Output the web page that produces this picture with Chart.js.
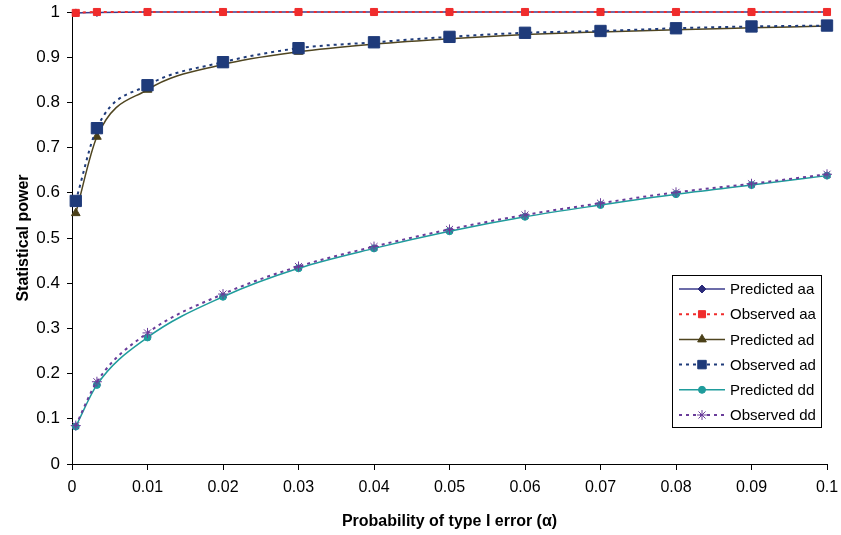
<!DOCTYPE html>
<html>
<head>
<meta charset="utf-8">
<script src="https://cdn.jsdelivr.net/npm/chart.js@4/dist/chart.umd.min.js"></script>
<style>
  body { margin: 0; background: #fff; }
  #wrap { width: 841px; height: 535px; }
</style>
</head>
<body>
<div id="wrap"><canvas id="power-chart" width="841" height="535"></canvas></div>
<script>
// alpha levels (x)
var alphas = [0.0005, 0.0033, 0.01, 0.02, 0.03, 0.04, 0.05, 0.06, 0.07, 0.08, 0.09, 0.1];

// statistical power per model
var predictedAA = [0.998, 0.999, 1, 1, 1, 1, 1, 1, 1, 1, 1, 1];
var observedAA  = [0.998, 1, 1, 1, 1, 1, 1, 1, 1, 1, 1, 1];
var predictedAD = [0.555, 0.724, 0.828, 0.884, 0.912, 0.929, 0.941, 0.950, 0.956, 0.961, 0.965, 0.969];
var observedAD  = [0.582, 0.743, 0.838, 0.889, 0.920, 0.933, 0.945, 0.954, 0.958, 0.964, 0.968, 0.970];
var predictedDD = [0.083, 0.175, 0.280, 0.370, 0.433, 0.477, 0.515, 0.547, 0.573, 0.597, 0.617, 0.638];
var observedDD  = [0.085, 0.182, 0.290, 0.376, 0.437, 0.481, 0.519, 0.551, 0.577, 0.601, 0.620, 0.641];

var seriesNames = ["Predicted aa", "Observed aa", "Predicted ad", "Observed ad", "Predicted dd", "Observed dd"];

function toPoints(vals){
	return vals.map(function(v, i){ return {x: alphas[i], y: v}; });
}

// observed series (order 0) are drawn over the predicted ones (order 1)
var datasets = [
	{ label: seriesNames[0], data: toPoints(predictedAA), borderColor: "#3b3b8c", backgroundColor: "#2b2b7a",
	  borderWidth: 1.5, pointStyle: "rectRot", pointRadius: 4, order: 1 },
	{ label: seriesNames[1], data: toPoints(observedAA), borderColor: "#f02c2c", backgroundColor: "#f02c2c",
	  borderWidth: 2, borderDash: [3, 4], pointStyle: "rect", pointRadius: 5, order: 0 },
	{ label: seriesNames[2], data: toPoints(predictedAD), borderColor: "#4f4520", backgroundColor: "#4a4018",
	  borderWidth: 1.5, pointStyle: "triangle", pointRadius: 5, order: 1 },
	{ label: seriesNames[3], data: toPoints(observedAD), borderColor: "#1f3b7a", backgroundColor: "#1f3b7a",
	  borderWidth: 2, borderDash: [3, 4], pointStyle: "rect", pointRadius: 8, order: 0 },
	{ label: seriesNames[4], data: toPoints(predictedDD), borderColor: "#1f9c9c", backgroundColor: "#1f9c9c",
	  borderWidth: 1.5, pointStyle: "circle", pointRadius: 3.5, order: 1 },
	{ label: seriesNames[5], data: toPoints(observedDD), borderColor: "#6a3d9a", backgroundColor: "#6a3d9a",
	  borderWidth: 2, borderDash: [3, 4], pointStyle: "star", pointRadius: 5, order: 0 }
];
datasets.forEach(function(d){
	d.fill = false;
	d.clip = false;
	d.cubicInterpolationMode = "monotone";
	d.pointBorderColor = d.backgroundColor;
	d.pointBorderWidth = 1;
});

// legend box inside the plot, drawn by hand
var boxLegend = {
	id: "boxLegend",
	afterDraw: function(chart){
		var ctx = chart.ctx;
		var left = 672, top = 275, w = 149, h = 152, rowH = 25.2;
		ctx.save();
		ctx.fillStyle = "#fff";
		ctx.fillRect(left, top, w, h);
		ctx.strokeStyle = "#000";
		ctx.lineWidth = 1;
		ctx.strokeRect(left + 0.5, top + 0.5, w, h);
		chart.data.datasets.forEach(function(d, i){
			var y = top + 14 + i * rowH;
			ctx.beginPath();
			ctx.strokeStyle = d.borderColor;
			ctx.lineWidth = d.borderWidth;
			ctx.setLineDash(d.borderDash || []);
			ctx.moveTo(679, y);
			ctx.lineTo(725, y);
			ctx.stroke();
			ctx.setLineDash([]);
			ctx.fillStyle = d.backgroundColor;
			ctx.strokeStyle = d.backgroundColor;
			ctx.lineWidth = 1;
			Chart.helpers.drawPoint(ctx, {pointStyle: d.pointStyle, radius: Math.min(d.pointRadius, 6), borderWidth: 1}, 702, y);
			ctx.fillStyle = "#000";
			ctx.font = "15px 'Liberation Sans', Arial, sans-serif";
			ctx.textBaseline = "middle";
			ctx.fillText(d.label, 730, y + 1);
		});
		ctx.restore();
	}
};

new Chart(document.getElementById("power-chart"), {
	type: "line",
	data: { datasets: datasets },
	options: {
		responsive: false,
		animation: false,
		layout: { padding: { top: 12, right: 14, left: 10, bottom: 0 } },
		plugins: { legend: { display: false }, tooltip: { enabled: false } },
		scales: {
			x: {
				type: "linear",
				min: 0, max: 0.1,
				afterFit: function(s){ s.height = 71; s.paddingLeft = 0; s.paddingRight = 0; },
				border: { color: "#000", width: 1 },
				grid: { drawOnChartArea: false, color: "#000", tickLength: 6 },
				ticks: {
					stepSize: 0.01, color: "#000", padding: 8, maxRotation: 0,
					font: { family: "'Liberation Sans', Arial", size: 16 },
					callback: function(v){ return Number(v.toFixed(2)).toString(); }
				},
				title: {
					display: true, text: "Probability of type I error (α)", color: "#000",
					font: { family: "'Liberation Sans', Arial", size: 16, weight: "bold" },
					padding: { top: 12 }
				}
			},
			y: {
				min: 0, max: 1,
				afterFit: function(s){ s.width = 62; s.paddingTop = 0; s.paddingBottom = 0; },
				border: { color: "#000", width: 1 },
				grid: { drawOnChartArea: false, color: "#000", tickLength: 5 },
				ticks: {
					stepSize: 0.1, color: "#000", padding: 7,
					font: { family: "'Liberation Sans', Arial", size: 17 },
					callback: function(v){ return Number(v.toFixed(1)).toString(); }
				},
				title: {
					display: true, text: "Statistical power", color: "#000",
					font: { family: "'Liberation Sans', Arial", size: 16, weight: "bold" },
					padding: { bottom: 6 }
				}
			}
		}
	},
	plugins: [boxLegend]
});
</script>
</body>
</html>
